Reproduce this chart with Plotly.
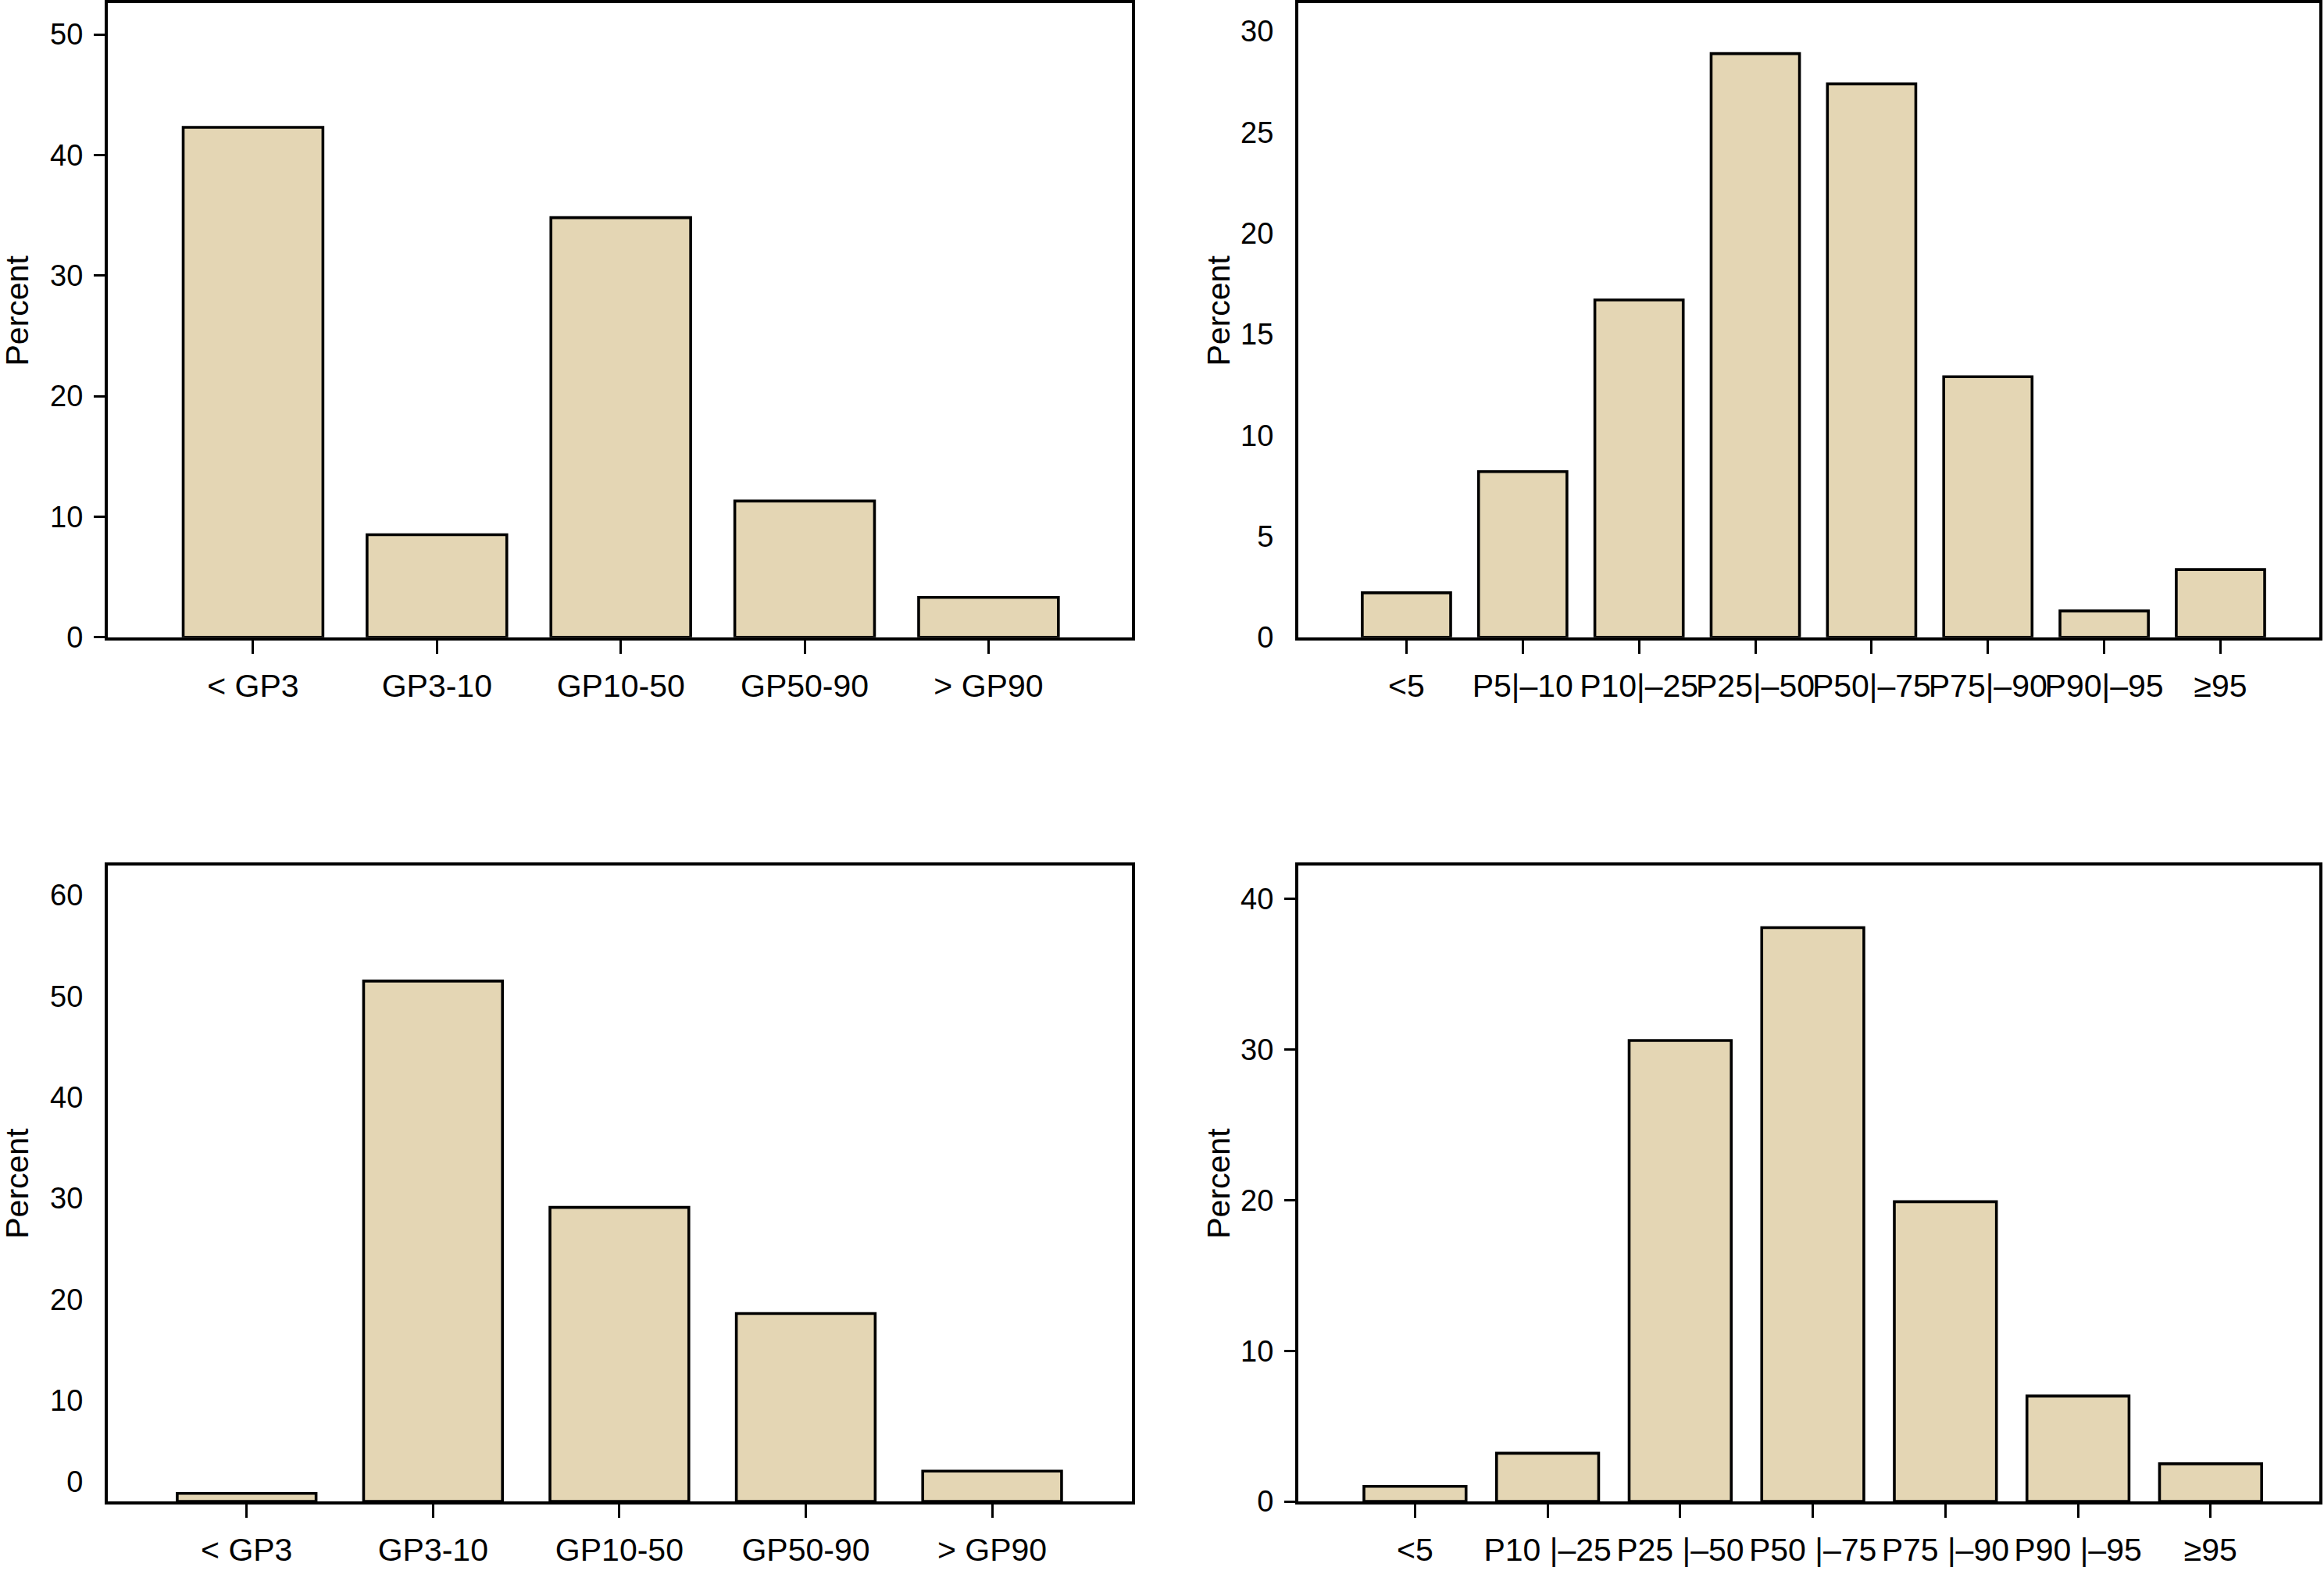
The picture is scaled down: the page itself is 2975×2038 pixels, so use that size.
import plotly.graph_objects as go

W, H = 2975, 2038

# ---------------- data ----------------
gp_categories = ["< GP3", "GP3-10", "GP10-50", "GP50-90", "> GP90"]
gp_top_values = [42.3, 8.5, 34.8, 11.3, 3.3]
gp_bottom_values = [0.8, 51.5, 29.1, 18.6, 3.0]

pct_top_categories = ["<5", "P5|–10", "P10|–25", "P25|–50", "P50|–75", "P75|–90", "P90|–95", "≥95"]
pct_top_values = [2.2, 8.2, 16.7, 28.9, 27.4, 12.9, 1.3, 3.35]

pct_bottom_categories = ["<5", "P10 |–25", "P25 |–50", "P50 |–75", "P75 |–90", "P90 |–95", "≥95"]
pct_bottom_values = [1.0, 3.2, 30.6, 38.1, 19.9, 7.0, 2.5]

tl_yticks = [0, 10, 20, 30, 40, 50]
tr_yticks = [0, 5, 10, 15, 20, 25, 30]
bl_ytick_text = ["0", "10", "20", "30", "40", "50", "60"]
br_yticks = [0, 10, 20, 30, 40]

# ---------------- style ----------------
FONT = "Liberation Sans, Arial, Helvetica, sans-serif"
BAR = "#E4D6B4"
LW = 4

def px_x(x):
    return x / W

def px_y(y):
    return 1 - y / H

fig = go.Figure()

panels = [
    dict(cats=gp_categories, vals=gp_top_values, xa="x", ya="y",
         xdom=[px_x(138), px_x(1449)], ydom=[px_y(823), px_y(2)],
         xr=[-0.79, 4.78], yr=[0, 52.6], width=0.76,
         tickvals=tl_yticks, ticktext=[str(v) for v in tl_yticks], ytickcolor="black"),
    dict(cats=pct_top_categories, vals=pct_top_values, xa="x2", ya="y2",
         xdom=[px_x(1662), px_x(2969)], ydom=[px_y(823), px_y(2)],
         xr=[-0.93, 7.85], yr=[0, 31.4], width=0.76,
         tickvals=tr_yticks, ticktext=[str(v) for v in tr_yticks], ytickcolor="rgba(0,0,0,0)"),
    dict(cats=gp_categories, vals=gp_bottom_values, xa="x3", ya="y3",
         xdom=[px_x(138), px_x(1449)], ydom=[px_y(1942), px_y(1119)],
         xr=[-0.745, 4.75], yr=[0, 62.9], width=0.745,
         tickvals=[2.0, 10, 20, 30, 40, 50, 60], ticktext=bl_ytick_text, ytickcolor="rgba(0,0,0,0)"),
    dict(cats=pct_bottom_categories, vals=pct_bottom_values, xa="x4", ya="y4",
         xdom=[px_x(1662), px_x(2969)], ydom=[px_y(1942), px_y(1119)],
         xr=[-0.88, 6.82], yr=[0, 42.2], width=0.77,
         tickvals=br_yticks, ticktext=[str(v) for v in br_yticks], ytickcolor="black"),
]

layout = {}
for i, p in enumerate(panels):
    fig.add_trace(go.Bar(
        x=p["cats"], y=p["vals"], xaxis=p["xa"], yaxis=p["ya"],
        width=p["width"],
        marker=dict(color=BAR, line=dict(color="black", width=3.6)),
        showlegend=False, hoverinfo="x+y",
    ))
    xkey = "xaxis" if i == 0 else f"xaxis{i+1}"
    ykey = "yaxis" if i == 0 else f"yaxis{i+1}"
    layout[xkey] = dict(
        domain=p["xdom"], anchor=p["ya"], type="category",
        range=p["xr"], showgrid=False, zeroline=False,
        showline=True, linecolor="black", linewidth=LW, mirror=True,
        ticks="outside", ticklen=17, tickwidth=3, tickcolor="black",
        tickangle=0, tickfont=dict(family=FONT, size=41, color="black"),
        ticklabelstandoff=6, fixedrange=True,
    )
    layout[ykey] = dict(
        domain=p["ydom"], anchor=p["xa"],
        range=p["yr"], showgrid=False, zeroline=False,
        showline=True, linecolor="black", linewidth=LW, mirror=True,
        tickmode="array", tickvals=p["tickvals"], ticktext=p["ticktext"],
        ticks="outside", ticklen=14, tickwidth=3, tickcolor=p["ytickcolor"],
        tickfont=dict(family=FONT, size=38, color="black"),
        ticklabelstandoff=6, fixedrange=True,
    )

annotations = []
for (xc, yc) in [(22, 400), (1560, 400), (22, 1530), (1560, 1530)]:
    annotations.append(dict(
        text="Percent", x=px_x(xc), y=px_y(yc), xref="paper", yref="paper",
        xanchor="center", yanchor="middle", showarrow=False, textangle=-90,
        font=dict(family=FONT, size=41, color="black"),
    ))

fig.update_layout(
    width=W, height=H,
    margin=dict(l=0, r=0, t=0, b=0),
    paper_bgcolor="white", plot_bgcolor="white",
    bargap=0.2,
    annotations=annotations,
    **layout,
)

fig.write_html(
    "out.html",
    config={"displayModeBar": False},
    post_script="document.body.style.margin='0';document.body.style.overflow='hidden';",
)
